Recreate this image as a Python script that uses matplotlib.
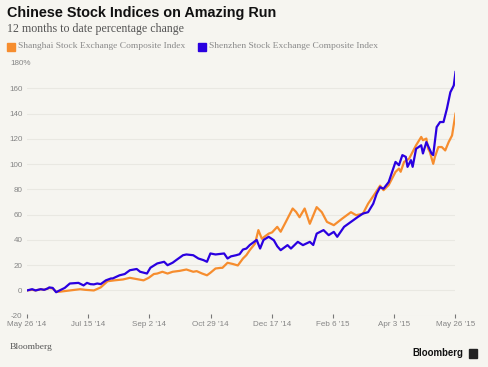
import matplotlib
matplotlib.use("Agg")
import matplotlib.pyplot as plt
from matplotlib.patches import Rectangle

# ---- data (trading-day index, % change) ----
blue_days = [0, 3, 5, 8, 10, 12, 13, 15, 17, 19, 22, 25, 30, 33, 35, 37, 39, 41, 43, 46,
             49, 50, 54, 57, 60, 64, 66, 70, 72, 76, 80, 82, 85, 87, 91, 93, 97, 100, 103, 105,
             107, 110, 115, 117, 119, 122, 124, 126, 128, 130, 132, 134, 136, 138, 141, 144, 146, 148, 152, 154,
             158, 161, 165, 167, 169, 173, 176, 179, 181, 185, 189, 193, 196, 199, 202, 204, 206, 208, 211, 215,
             217, 219, 221, 222, 224, 225, 227, 230, 231, 233, 236, 237, 239, 241, 243, 245, 247, 249, 250]
blue_vals = [0, 1, 0, 1, 0.5, 1.5, 2.4, 2, -1.4, 0, 2, 5.5, 6, 4, 6, 5, 4.8, 5.5, 5, 8,
             9.5, 9.5, 12, 13, 16, 17, 14.8, 13.4, 18, 21.4, 22.7, 20, 22, 24, 27.9, 28.5, 27.9, 25.3, 24, 22.7,
             29.3, 28.5, 29.3, 25.3, 27, 27.9, 28.7, 32.4, 33.2, 36, 38, 40, 33.2, 40, 42.5, 39.8, 35, 31.9, 35.9, 33.2,
             38.5, 35.9, 38.5, 36, 45, 47.8, 43.8, 46.4, 42.5, 50.4, 54.3, 58.2, 60.9, 62, 68.7, 76.6, 81.8, 80.6, 85.8, 101.8,
             99.2, 107.2, 105.8, 97.9, 103.2, 97.9, 112.2, 115, 108.5, 117.5, 108.5, 107.2, 129.4, 133.4, 133.4, 144, 157, 162.4, 173]

orange_days = [0, 3, 5, 8, 10, 12, 13, 15, 17, 19, 22, 25, 28, 31, 34, 39, 43, 47, 51, 56,
               60, 64, 68, 71, 74, 76, 79, 82, 85, 89, 93, 97, 99, 102, 105, 107, 110, 113, 114, 117,
               120, 123, 126, 128, 130, 133, 135, 137, 141, 143, 146, 148, 151, 155, 157, 159, 162, 165, 169, 172,
               175, 179, 184, 189, 192, 196, 199, 203, 206, 208, 211, 215, 217, 218, 220, 223, 225, 227, 230, 231,
               233, 234, 235, 237, 238, 240, 242, 244, 246, 248, 250]
orange_vals = [0, 0.5, 0, 1, 0.5, 1.5, 2, 1.5, -1, -1, -0.5, 0, 0.5, 1, 0.5, 0, 2.4, 7.3, 8, 8.7,
               10, 9, 8, 10, 13, 13.4, 14.8, 13.4, 14.8, 15.5, 16.6, 14.8, 15.3, 13.5, 12, 14, 17.4, 17.9, 17.9, 21.9,
               21, 19.8, 25.3, 28, 32, 37, 47.8, 41, 45, 46, 50.4, 46.5, 54.3, 64.9, 62.2, 58, 64.9, 52.8, 66, 62,
               54.3, 51.7, 57, 62, 59.6, 60.8, 68.7, 76.7, 83, 79.4, 83.4, 93.9, 96.5, 94, 101.8, 104.5, 109.8, 115, 121.6, 119,
               120.3, 112.3, 109.8, 100.3, 105.8, 113.6, 113.6, 110.9, 117.5, 122.8, 140]

tick_labels = ["May 26 '14", "Jul 15 '14", "Sep 2 '14", "Oct 29 '14",
               "Dec 17 '14", "Feb 6 '15", "Apr 3 '15", "May 26 '15"]
y_ticks = [-20, 0, 20, 40, 60, 80, 100, 120, 140, 160, 180]

series_names = ["Shanghai Stock Exchange Composite Index",
                "Shenzhen Stock Exchange Composite Index"]

BG = "#f6f5f0"
ORANGE = "#f68d2e"
BLUE = "#2a00e0"
GRAY = "#858585"

W, H = 488, 367
fig = plt.figure(figsize=(W / 100, H / 100), dpi=100, facecolor=BG)
ax = fig.add_axes([27 / W, 1 - 315.7 / H, (455.5 - 27) / W, (315.7 - 63.2) / H])
ax.set_facecolor(BG)

n_days = 250
ax.set_xlim(0, n_days)
ax.set_ylim(-20, 180)

for y in y_ticks[:-1]:
    ax.axhline(y, color="#e9e8e2", lw=0.8, zorder=0)

ax.plot(orange_days, orange_vals, color=ORANGE, lw=1.6, zorder=2, solid_joinstyle="round")
ax.plot(blue_days, blue_vals, color=BLUE, lw=1.6, zorder=3, solid_joinstyle="round")

xt = [i * n_days / (len(tick_labels) - 1) for i in range(len(tick_labels))]
ax.set_xticks(xt)
ax.set_xticklabels(tick_labels, fontsize=5.8, color=GRAY, family="Liberation Sans")
ax.tick_params(axis="x", length=2.5, width=0.8, color="#777777", pad=2.5, direction="inout")

ax.set_yticks(y_ticks)
ax.set_yticklabels([str(v) if v != 180 else "" for v in y_ticks],
                   fontsize=5.8, color=GRAY, family="Liberation Sans")
ax.tick_params(axis="y", length=0, pad=3.2)
ax.annotate("180%", xy=(10, 180), xycoords=("figure pixels", "data"),
            ha="left", va="center", fontsize=5.8, color=GRAY, family="Liberation Sans")

for s in ax.spines.values():
    s.set_visible(False)

# titles
fig.text(7 / W, 1 - 13 / H, "Chinese Stock Indices on Amazing Run", fontsize=10.4,
         fontweight="bold", family="Liberation Sans", color="#111111", va="center", ha="left")
fig.text(7 / W, 1 - 29 / H, "12 months to date percentage change", fontsize=8.6,
         family="Liberation Serif", color="#555555", va="center", ha="left")

# legend
for x0, col, name in [(7, ORANGE, series_names[0]), (198, BLUE, series_names[1])]:
    fig.patches.append(Rectangle((x0 / W, 1 - 50.5 / H), 8 / W, 8 / H,
                                 transform=fig.transFigure, color=col, figure=fig))
    fig.text((x0 + 11) / W, 1 - 46.5 / H, name, fontsize=6.8, family="Liberation Serif",
             color="#8a8a8a", va="center", ha="left")

# source
fig.text(10 / W, 1 - 347 / H, "Bloomberg", fontsize=6.8, family="Liberation Serif",
         color="#555555", va="center", ha="left")
fig.text(463 / W, 1 - 353 / H, "Bloomberg", fontsize=6.9, fontweight="bold",
         family="Liberation Sans", color="#111111", va="center", ha="right")
fig.patches.append(Rectangle((469 / W, 1 - 357.5 / H), 8 / W, 8.5 / H,
                             transform=fig.transFigure, color="#222222", figure=fig))

fig.savefig("out.png", dpi=100, facecolor=BG)
